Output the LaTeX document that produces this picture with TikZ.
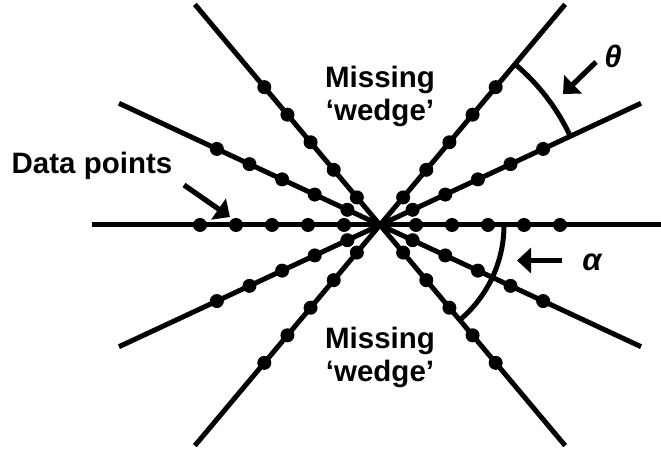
\documentclass[tikz,border=0pt]{standalone}
\usepackage{fontspec}
\setmainfont{Liberation Sans}
\usetikzlibrary{arrows.meta,calc}
\begin{document}
\begin{tikzpicture}[x=1pt,y=1pt,
  ray/.style={line width=5pt},
  dot/.style={circle,fill=black,inner sep=0pt,minimum size=14pt},
  lbl/.style={font=\fontsize{29.5}{33}\selectfont\bfseries, align=center, inner sep=0pt},
  greek/.style={font=\fontsize{31}{33}\selectfont\bfseries\itshape, inner sep=0pt},
  pointer/.style={line width=5.2pt,-{Triangle[length=14pt,width=25pt]}},
  anglearc/.style={line width=5pt}]
\useasboundingbox (0,0) rectangle (661,452);
\coordinate (O) at (380,227);
\coordinate (E0) at (661,227);
\draw[ray] (O) -- (E0);
\foreach \a in {25,50,130,155,180,205,230,310,335} {
  \coordinate (E\a) at ($(O)+(\a:288)$);
  \draw[ray] (O) -- (E\a);
}
\foreach \a in {0,25,50,130,155,180,205,230,310,335} {
  \foreach \k in {1,...,5} {
    \node[dot] (d\a-\k) at ($(O)+(\a:36*\k)$) {};
  }
}
% angle arcs
\draw[anglearc] ($(O)+(50:210)$) arc[start angle=50, end angle=25, radius=210];
\draw[anglearc] ($(O)+(0:124)$) arc[start angle=0, end angle=-50, radius=124];
% labels
\node[lbl] (mtop) at (380,356) {Missing\\‘wedge’};
\node[lbl] (mbot) at (380,95) {Missing\\‘wedge’};
\node[lbl] (data) at (92,286) {Data points};
\node[greek] (theta) at (613,396) {θ};
\node[greek] (alpha) at (592,190) {α};
% pointers
\coordinate (pa1) at (184,267);
\coordinate (pa2) at (230,235);
\draw[pointer] (pa1) -- (pa2);
\coordinate (pt1) at (596,390);
\coordinate (pt2) at (563,358);
\draw[pointer] (pt1) -- (pt2);
\coordinate (pl1) at (562,191.5);
\coordinate (pl2) at (517,191.5);
\draw[pointer] (pl1) -- (pl2);
\end{tikzpicture}
\end{document}
